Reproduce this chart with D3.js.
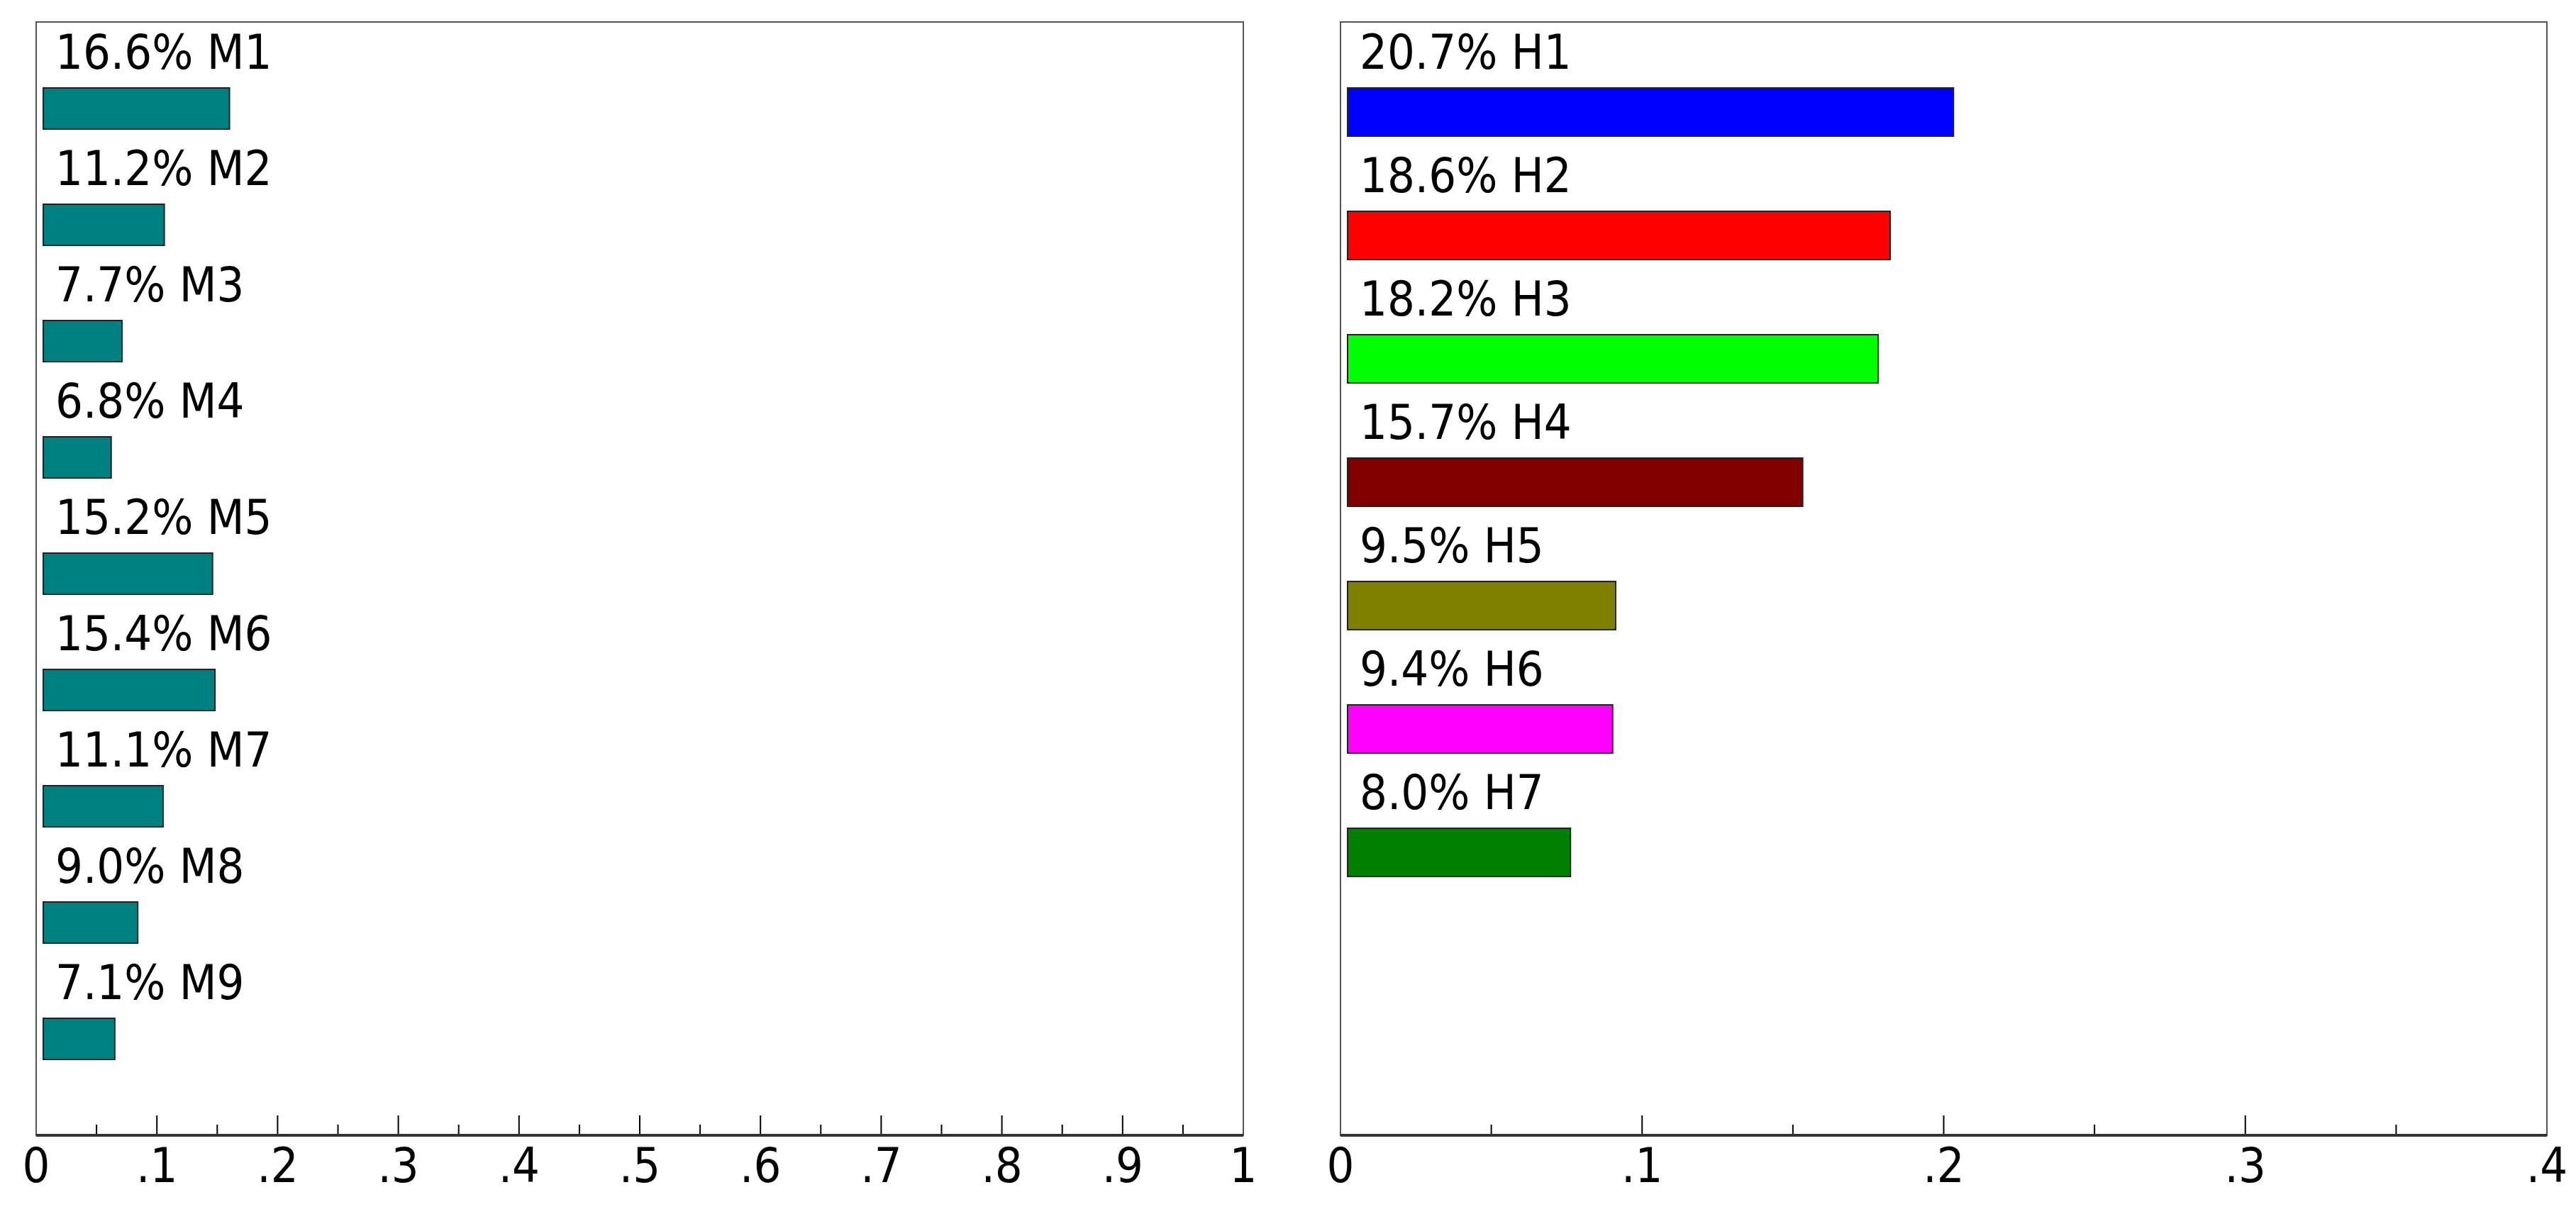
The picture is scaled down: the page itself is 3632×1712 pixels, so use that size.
<!DOCTYPE html>
<html>
<head>
<meta charset="utf-8">
<script src="https://cdn.jsdelivr.net/npm/d3@7"></script>
<style>
  body { margin: 0; background: #fff; }
  text { font-family: "Liberation Sans Narrow", "DejaVu Sans Condensed", "Liberation Sans", sans-serif; }
</style>
</head>
<body>
<svg id="chart" width="3632" height="1712"></svg>
<script>
// données
const leftNames = ['M1', 'M2', 'M3', 'M4', 'M5', 'M6', 'M7', 'M8', 'M9'];
const leftValues = [0.166, 0.112, 0.077, 0.068, 0.152, 0.154, 0.111, 0.090, 0.071];
const leftTicks = [0, 0.1, 0.2, 0.3, 0.4, 0.5, 0.6, 0.7, 0.8, 0.9, 1];

const rightNames = ['H1', 'H2', 'H3', 'H4', 'H5', 'H6', 'H7'];
const rightValues = [0.207, 0.186, 0.182, 0.157, 0.095, 0.094, 0.080];
const rightColors = ['#0000ff', '#ff0000', '#00ff00', '#800000', '#808000', '#ff00ff', '#008000'];
const rightTicks = [0, 0.1, 0.2, 0.3, 0.4];

const svg = d3.select('#chart');
const frameTop = 31, frameBottom = 1601;

function panel(cfg) {
    const x = d3.scaleLinear().domain([0, cfg.max]).range([cfg.x0, cfg.x1]);
    // position verticale de chaque barre (haut de la barre)
    const y = d3.scaleLinear().domain([0, 1]).range([124, 124 + cfg.step]);
    const g = svg.append('g');

    g.append('rect')
        .attr('x', cfg.x0).attr('y', frameTop)
        .attr('width', cfg.x1 - cfg.x0).attr('height', frameBottom - frameTop)
        .attr('fill', 'none').attr('stroke', '#555').attr('stroke-width', 2);

    g.selectAll('rect.bar')
        .data(cfg.values)
        .enter().append('rect')
        .attr('class', 'bar')
        .attr('x', x(0) + 10)
        .attr('y', (d, i) => y(i))
        .attr('width', d => x(d) - x(0) - 10 - cfg.short)
        .attr('height', cfg.barH)
        .attr('fill', (d, i) => cfg.colors[i])
        .attr('stroke', '#222').attr('stroke-width', 2);

    g.selectAll('text.lab')
        .data(cfg.values)
        .enter().append('text')
        .attr('class', 'lab')
        .attr('x', cfg.x0 + 27)
        .attr('y', (d, i) => y(i) - 27)
        .attr('font-size', 68)
        .text((d, i) => (d * 100).toFixed(1) + '% ' + cfg.names[i]);

    // axe du bas
    const minor = d3.range(cfg.max / cfg.minorStep + 1).map(i => i * cfg.minorStep);
    g.selectAll('line.tick')
        .data(minor.slice(1, -1))
        .enter().append('line')
        .attr('x1', d => x(d)).attr('x2', d => x(d))
        .attr('y1', frameBottom)
        .attr('y2', (d, i) => frameBottom - (i % 2 === 1 ? 28 : 15))
        .attr('stroke', '#000').attr('stroke-width', 2);

    g.append('line')
        .attr('x1', cfg.x0).attr('x2', cfg.x1)
        .attr('y1', frameBottom).attr('y2', frameBottom)
        .attr('stroke', '#333').attr('stroke-width', 4);

    g.selectAll('text.tk')
        .data(cfg.ticks)
        .enter().append('text')
        .attr('class', 'tk')
        .attr('x', d => x(d))
        .attr('y', 1667)
        .attr('text-anchor', 'middle')
        .attr('font-size', 68)
        .text(d => d === 0 ? '0' : d === 1 ? '1' : String(+d.toFixed(2)).replace('0.', '.'));
}

panel({
    x0: 51, x1: 1753, max: 1, minorStep: 0.05, step: 164, barH: 58, short: 10,
    values: leftValues, names: leftNames, colors: leftNames.map(() => '#008080'), ticks: leftTicks
});

panel({
    x0: 1890, x1: 3591, max: 0.4, minorStep: 0.05, step: 174, barH: 68, short: 16,
    values: rightValues, names: rightNames, colors: rightColors, ticks: rightTicks
});
</script>
</body>
</html>
